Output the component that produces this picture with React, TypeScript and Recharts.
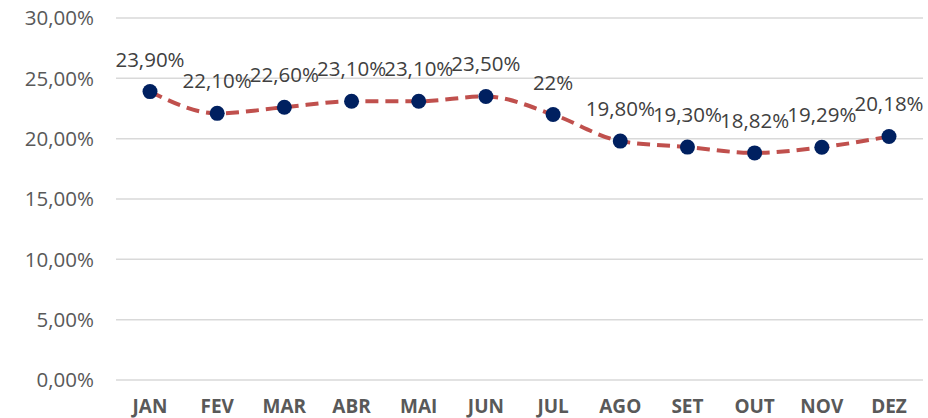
import React from "react";
import { LineChart, Line, XAxis, YAxis, CartesianGrid, LabelList } from "recharts";

const months = ["JAN", "FEV", "MAR", "ABR", "MAI", "JUN", "JUL", "AGO", "SET", "OUT", "NOV", "DEZ"];
const values = [23.9, 22.1, 22.6, 23.1, 23.1, 23.5, 22, 19.8, 19.3, 18.82, 19.29, 20.18];
const valueLabels = ["23,90%", "22,10%", "22,60%", "23,10%", "23,10%", "23,50%", "22%", "19,80%", "19,30%", "18,82%", "19,29%", "20,18%"];
const yTicks = [0, 5, 10, 15, 20, 25, 30];

const data = months.map((m, i) => ({ month: m, value: values[i], label: valueLabels[i] }));

const fmtY = (v: number) => v.toFixed(2).replace(".", ",") + "%";

export default function App() {
  return (
    <div style={{ position: "absolute", left: 0, top: 0 }}>
      <LineChart
        width={928}
        height={418}
        data={data}
        margin={{ top: 18, right: 5, bottom: 0, left: 0 }}
        style={{ fontFamily: "'Open Sans', sans-serif" }}
      >
        <CartesianGrid vertical={false} stroke="#D9D9D9" strokeWidth={1.5} />
        <XAxis
          dataKey="month"
          axisLine={false}
          tickLine={false}
          tickSize={0}
          tickMargin={20}
          height={38}
          interval={0}
          padding={{ left: 34, right: 34 }}
          tick={{ fill: "#595959", fontSize: 19, fontWeight: 700 }}
        />
        <YAxis
          domain={[0, 30]}
          ticks={yTicks}
          tickFormatter={fmtY}
          axisLine={false}
          tickLine={false}
          tickSize={0}
          tickMargin={22}
          width={116}
          tick={{ fill: "#595959", fontSize: 20.5 }}
        />
        <Line
          type="monotone"
          dataKey="value"
          stroke="#C0504D"
          strokeWidth={4}
          strokeDasharray="13 7"
          dot={{ r: 7.5, fill: "#002060", stroke: "none" }}
          activeDot={false}
          isAnimationActive={false}
        >
          <LabelList dataKey="label" position="top" offset={25} fill="#404040" fontSize={20.5} />
        </Line>
      </LineChart>
    </div>
  );
}
